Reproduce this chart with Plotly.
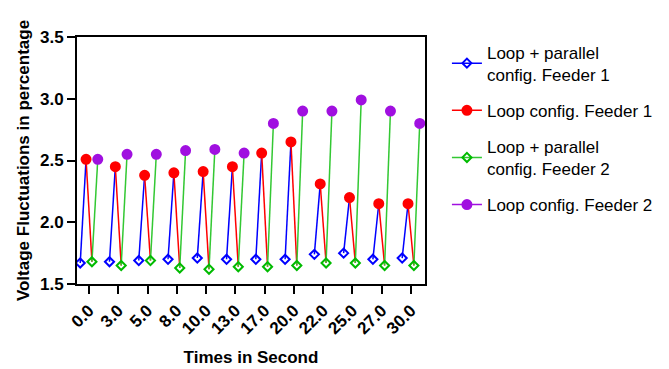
import plotly.graph_objects as go

times = ["0.0", "3.0", "5.0", "8.0", "10.0", "13.0", "17.0", "20.0", "22.0", "25.0", "27.0", "30.0"]
lp_feeder1 = [1.67, 1.68, 1.69, 1.70, 1.71, 1.70, 1.70, 1.70, 1.74, 1.75, 1.70, 1.71]
loop_feeder1 = [2.51, 2.45, 2.38, 2.40, 2.41, 2.45, 2.56, 2.65, 2.31, 2.20, 2.15, 2.15]
lp_feeder2 = [1.68, 1.65, 1.69, 1.63, 1.62, 1.64, 1.64, 1.65, 1.67, 1.67, 1.65, 1.65]
loop_feeder2 = [2.51, 2.55, 2.55, 2.58, 2.59, 2.56, 2.80, 2.90, 2.90, 2.99, 2.90, 2.80]

names = ["Loop + parallel<br>config. Feeder 1", "Loop config. Feeder 1",
         "Loop + parallel<br>config. Feeder 2", "Loop config. Feeder 2"]
series = [lp_feeder1, loop_feeder1, lp_feeder2, loop_feeder2]
colors = ["#0000FF", "#FF0000", "#00BB00", "#A010E0"]
line_colors = ["#0000FF", "#FF0000", "#33C833", "#A010E0"]
symbols = ["diamond-open", "circle", "diamond-open", "circle"]
sizes = [7, 9, 7, 9]
offsets = [-0.3, -0.1, 0.1, 0.3]

FONT = "Arial, Liberation Sans, sans-serif"
fig = go.Figure()

# connecting segments within each time group
for s in range(3):
    xs, ys = [], []
    for i in range(len(times)):
        xs += [i + offsets[s], i + offsets[s + 1], None]
        ys += [series[s][i], series[s + 1][i], None]
    fig.add_trace(go.Scatter(x=xs, y=ys, mode="lines", showlegend=False,
                             line=dict(color=line_colors[s], width=1.5),
                             hoverinfo="skip", legendgroup=f"g{s}"))

for s in range(4):
    xs, ys = [], []
    for i in range(len(times)):
        xs += [i + offsets[s], None]
        ys += [series[s][i], None]
    fig.add_trace(go.Scatter(
        x=xs, y=ys, mode="lines+markers", connectgaps=False, name=names[s],
        legendgroup=f"g{s}",
        line=dict(color=line_colors[s], width=1.5),
        marker=dict(symbol=symbols[s], size=sizes[s], color=colors[s],
                    line=dict(color=colors[s], width=2)),
    ))

fig.update_layout(
    width=669, height=369,
    margin=dict(l=77, r=244, t=37, b=85, autoexpand=False),
    plot_bgcolor="white", paper_bgcolor="white",
    font=dict(family=FONT, color="black", size=17),
    legend=dict(x=1.063, y=1.01, xanchor="left", yanchor="top",
                font=dict(size=17, family=FONT), tracegroupgap=11,
                maxheight=320, bgcolor="rgba(0,0,0,0)"),
)
fig.update_xaxes(
    range=[-0.41, 11.48], tickmode="array", tickvals=list(range(len(times))),
    ticktext=[f"<b>{t}</b>" for t in times], tickangle=-45,
    showline=True, linecolor="black", linewidth=2, mirror=True,
    ticks="outside", ticklen=8, tickwidth=2, tickcolor="black",
    showgrid=False, zeroline=False, tickfont=dict(size=17),
    title=dict(text="<b>Times in Second</b>", font=dict(size=17), standoff=14),
)
fig.update_yaxes(
    range=[1.5, 3.5], tickmode="array", tickvals=[1.5, 2.0, 2.5, 3.0, 3.5],
    ticktext=["<b>1.5</b>", "<b>2.0</b>", "<b>2.5</b>", "<b>3.0</b>", "<b>3.5</b>"],
    showline=True, linecolor="black", linewidth=2, mirror=True,
    ticks="outside", ticklen=8, tickwidth=2, tickcolor="black",
    showgrid=False, zeroline=False, tickfont=dict(size=17),
    title=dict(text="<b>Voltage Fluctuations in percentage</b>", font=dict(size=17), standoff=6),
)

fig.write_html("out.html")
